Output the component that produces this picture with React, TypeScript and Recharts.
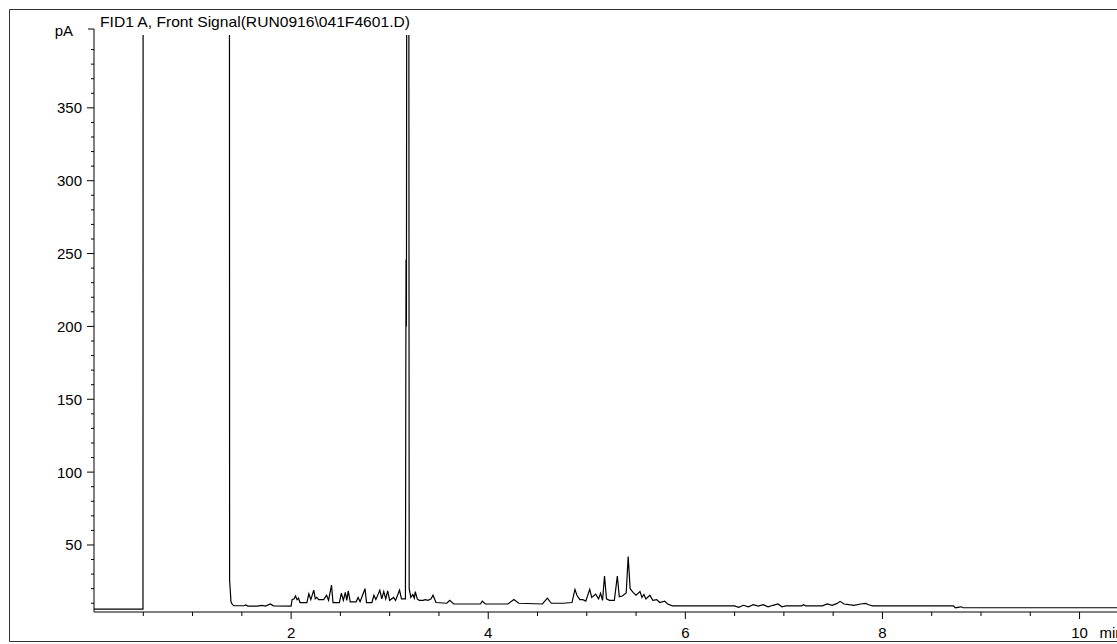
import { LineChart, Line, XAxis, YAxis } from "recharts"

type Pt = [number, number]

// retention time (min), signal (pA); values above 400 run off the top of the plot
const baselineStart: Pt[] = [
   [0, 6],
   [0.497, 6],
]

const solventPeak: Pt[] = [
   [0.5, 1000],
   [1.372, 1000],
   [1.376, 26],
   [1.39, 11],
   [1.405, 9],
   [1.42, 8.3],
   [1.52, 8.3],
   [1.54, 8.8],
   [1.56, 8.1],
   [1.66, 8.1],
   [1.7, 8.6],
   [1.74, 8.1],
   [1.79, 9.5],
   [1.82, 8.2],
   [2.0, 8.1],
]

const earlyPeaks: Pt[] = [
   [2.01, 12.5], [2.03, 13], [2.045, 15], [2.06, 12.5], [2.075, 13.5],
   [2.09, 10.5], [2.16, 10.5], [2.18, 16.5], [2.2, 12.5], [2.23, 19],
   [2.245, 13], [2.26, 14], [2.28, 12.5], [2.33, 12.5], [2.36, 15.5],
   [2.38, 12], [2.41, 22.5], [2.425, 10.5], [2.49, 10.5], [2.51, 17],
   [2.53, 12], [2.55, 17.5], [2.565, 12], [2.58, 18.5], [2.6, 11],
   [2.66, 11], [2.68, 14], [2.7, 11], [2.75, 20], [2.765, 10.5],
   [2.82, 10.5], [2.84, 15.5], [2.86, 12.5], [2.9, 19], [2.92, 13],
   [2.94, 18], [2.96, 13], [2.98, 18.5], [3.0, 12], [3.04, 14],
   [3.06, 12], [3.1, 19], [3.12, 13], [3.16, 13],
]

const mainPeak: Pt[] = [
   [3.166, 246],
   [3.17, 200],
   [3.18, 1000],
   [3.19, 1000],
   [3.198, 20],
]

const midPeaks: Pt[] = [
   [3.215, 14], [3.235, 16], [3.25, 13.5], [3.26, 18], [3.28, 13],
   [3.3, 12], [3.34, 12], [3.36, 12.5], [3.39, 12], [3.42, 13],
   [3.44, 15.5], [3.47, 10.5], [3.58, 10], [3.61, 12], [3.65, 9.5],
   [3.78, 9.5], [3.92, 9.5], [3.94, 11.5], [3.97, 9.5], [4.2, 9.5],
   [4.26, 12.5], [4.31, 10], [4.55, 9.5], [4.6, 13.5], [4.64, 10],
   [4.76, 10], [4.85, 10.5],
]

const clusterPeaks: Pt[] = [
   [4.88, 19.5], [4.9, 15.5], [4.93, 12.5], [4.96, 12.5], [4.99, 11.5],
   [5.03, 19.5], [5.05, 14], [5.09, 16.3], [5.12, 13], [5.14, 16.8],
   [5.16, 12], [5.18, 28.7], [5.2, 13], [5.23, 12], [5.28, 12],
   [5.31, 28.7], [5.33, 14.5], [5.36, 15], [5.4, 17], [5.42, 42],
   [5.44, 20], [5.47, 17.5], [5.5, 15.5], [5.54, 18], [5.56, 14],
   [5.58, 16], [5.6, 13], [5.64, 15.5], [5.67, 12], [5.71, 12.5],
   [5.74, 10.5], [5.79, 11.5], [5.82, 9.5], [5.87, 8.2],
]

const latePeaks: Pt[] = [
   [6.5, 8.2], [6.54, 7.2], [6.59, 8.6], [6.64, 7.6], [6.69, 9],
   [6.74, 8.1], [6.79, 9], [6.84, 7.6], [6.89, 8.6], [6.94, 9.5],
   [6.98, 7.6], [7.02, 8.2], [7.18, 8.2], [7.2, 9], [7.22, 8.2],
   [7.39, 8.2], [7.44, 9.5], [7.49, 8.6], [7.54, 9.9], [7.57, 11.3],
   [7.61, 9.5], [7.66, 9], [7.71, 8.6], [7.78, 9.5], [7.83, 9.9],
   [7.86, 9], [7.9, 8.2], [8.72, 8.2], [8.74, 6.9], [8.78, 7.4],
   [8.8, 7.6], [8.82, 6.9], [10.38, 6.9],
]

const xTicks = [0.5, 1, 1.5, 2, 2.5, 3, 3.5, 4, 4.5, 5, 5.5, 6, 6.5, 7, 7.5, 8, 8.5, 9, 9.5, 10]
const yTicks = [10, 20, 30, 40, 50, 60, 70, 80, 90, 100, 110, 120, 130, 140, 150, 160, 170, 180, 190, 200,
   210, 220, 230, 240, 250, 260, 270, 280, 290, 300, 310, 320, 330, 340, 350, 360, 370, 380, 390, 400]

const title = "FID1 A, Front Signal(RUN0916\\041F4601.D)"
const font = "'Liberation Sans', Arial, sans-serif"

const data = [
   ...baselineStart,
   ...solventPeak,
   ...earlyPeaks,
   ...mainPeak,
   ...midPeaks,
   ...clusterPeaks,
   ...latePeaks,
].map(([t, v]) => ({ t, v }))

const XTick = ({ x, y, payload }: any) => {
   const v = payload.value
   const major = v % 2 === 0
   return (
      <g>
         <line x1={x} x2={x} y1={y} y2={y + (major ? 7 : 4)} stroke="#000" />
         {major && (
            <text x={x} y={y + 26} textAnchor="middle" fontSize={15} fill="#000" fontFamily={font}>
               {v}
            </text>
         )}
         {v === 10 && (
            <text x={x + 20} y={y + 26} fontSize={15} fill="#000" fontFamily={font}>
               min
            </text>
         )}
      </g>
   )
}

const YTick = ({ x, y, payload }: any) => {
   const v = payload.value
   if (v === 400) {
      return (
         <g>
            <path d={`M${x - 6},${y - 6} H${x} V${y}`} stroke="#000" fill="none" />
            <text x={x - 21} y={y + 1} textAnchor="end" fontSize={15} fill="#000" fontFamily={font}>
               pA
            </text>
         </g>
      )
   }
   const major = v % 50 === 0
   return (
      <g>
         <line x1={x - (major ? 7 : 3)} x2={x} y1={y} y2={y} stroke="#000" />
         {major && (
            <text x={x - 12} y={y + 5.5} textAnchor="end" fontSize={15} fill="#000" fontFamily={font}>
               {v}
            </text>
         )}
      </g>
   )
}

const App = () => {
   return (
      <div style={{ position: "absolute", left: 0, top: 0, width: 1117, height: 644, background: "#fff" }}>
         <LineChart width={1117} height={644} data={data} margin={{ top: 35, right: 0, bottom: 0, left: 0 }}>
            <XAxis
               dataKey="t"
               type="number"
               domain={[0, 10.38]}
               allowDataOverflow
               ticks={xTicks}
               interval={0}
               tick={<XTick />}
               tickSize={0}
               tickMargin={0}
               tickLine={false}
               axisLine={{ stroke: "#000" }}
               height={32}
            />
            <YAxis
               type="number"
               domain={[4, 400]}
               allowDataOverflow
               ticks={yTicks}
               interval={0}
               tick={<YTick />}
               tickSize={0}
               tickMargin={0}
               tickLine={false}
               axisLine={{ stroke: "#000" }}
               width={94}
            />
            <Line
               type="linear"
               dataKey="v"
               stroke="#000"
               strokeWidth={1.2}
               dot={false}
               isAnimationActive={false}
            />
         </LineChart>
         <svg
            width={1117}
            height={644}
            style={{ position: "absolute", left: 0, top: 0, pointerEvents: "none" }}
         >
            <path d="M1117,9.5 H9.5 V641.5 H1117" stroke="#333" fill="none" />
            <text x={100} y={27} fontSize={15} fill="#000" fontFamily={font} textLength={310} lengthAdjust="spacingAndGlyphs">
               {title}
            </text>
         </svg>
      </div>
   )
}

export default App
